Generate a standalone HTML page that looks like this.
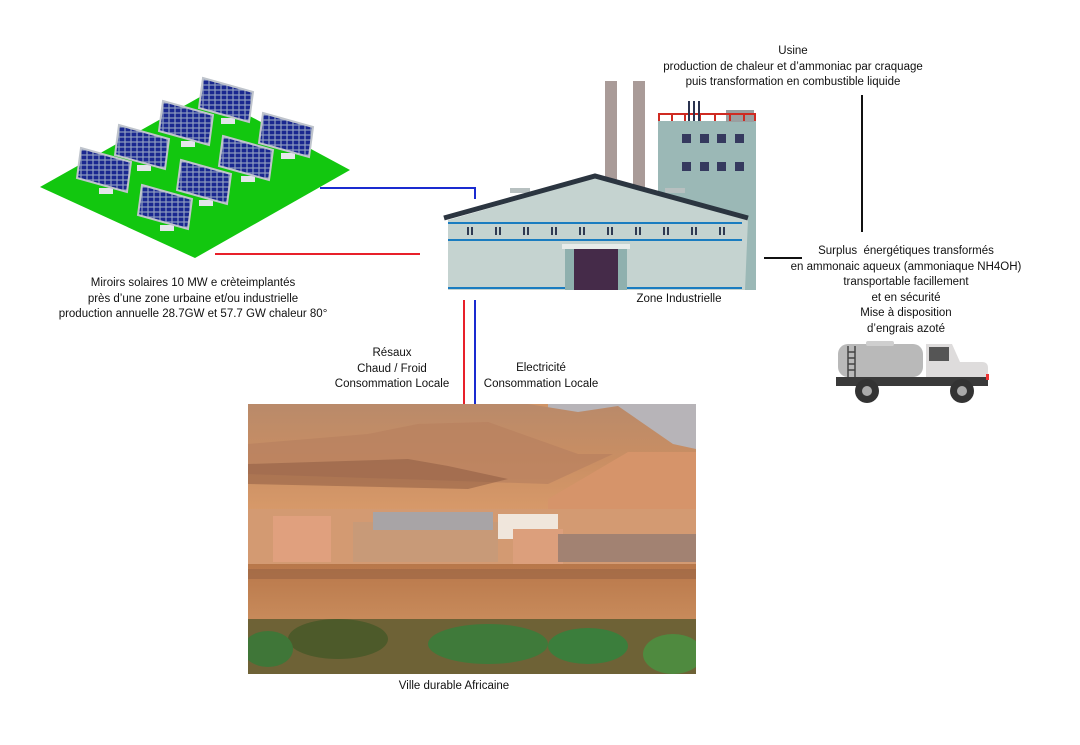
<!DOCTYPE html>
<html><head><meta charset="utf-8"><style>
html,body{margin:0;padding:0;background:#fff;}
body{width:1080px;height:745px;position:relative;overflow:hidden;font-family:"Liberation Sans",sans-serif;}
.t{position:absolute;font-size:11.5px;line-height:15.5px;text-align:center;color:#111;white-space:nowrap;transform:translateX(-50%);}
svg{position:absolute;left:0;top:0;}
</style></head><body>
<svg width="1080" height="745" viewBox="0 0 1080 745">
<defs>
<pattern id="cell" width="6" height="5" patternUnits="userSpaceOnUse"><rect width="6" height="5" fill="#8f9cc0"/><rect x="0.6" y="0.6" width="4.8" height="3.8" fill="#1a2890"/></pattern>
<linearGradient id="mtn" x1="0" y1="0" x2="0" y2="1"><stop offset="0" stop-color="#b98a6a"/><stop offset="0.5" stop-color="#c98e63"/><stop offset="1" stop-color="#d89a6a"/></linearGradient>
<linearGradient id="gnd" x1="0" y1="0" x2="0" y2="1"><stop offset="0" stop-color="#b8774a"/><stop offset="1" stop-color="#c98c5c"/></linearGradient>
<clipPath id="pc"><rect width="448" height="270"/></clipPath>
</defs>
<polygon points="40,187 207,93 350,170 195,258" fill="#12c70f"/>
<g stroke="#bfc4cc" stroke-width="2">
<g transform="translate(227,100)"><rect x="-6" y="18" width="14" height="6" fill="#e4e6ea" stroke="none"/><polygon points="-24,-22 26,-8 22,22 -28,8" fill="url(#cell)"/></g>
<g transform="translate(187,123)"><rect x="-6" y="18" width="14" height="6" fill="#e4e6ea" stroke="none"/><polygon points="-24,-22 26,-8 22,22 -28,8" fill="url(#cell)"/></g>
<g transform="translate(143,147)"><rect x="-6" y="18" width="14" height="6" fill="#e4e6ea" stroke="none"/><polygon points="-24,-22 26,-8 22,22 -28,8" fill="url(#cell)"/></g>
<g transform="translate(105,170)"><rect x="-6" y="18" width="14" height="6" fill="#e4e6ea" stroke="none"/><polygon points="-24,-22 26,-8 22,22 -28,8" fill="url(#cell)"/></g>
<g transform="translate(287,135)"><rect x="-6" y="18" width="14" height="6" fill="#e4e6ea" stroke="none"/><polygon points="-24,-22 26,-8 22,22 -28,8" fill="url(#cell)"/></g>
<g transform="translate(247,158)"><rect x="-6" y="18" width="14" height="6" fill="#e4e6ea" stroke="none"/><polygon points="-24,-22 26,-8 22,22 -28,8" fill="url(#cell)"/></g>
<g transform="translate(205,182)"><rect x="-6" y="18" width="14" height="6" fill="#e4e6ea" stroke="none"/><polygon points="-24,-22 26,-8 22,22 -28,8" fill="url(#cell)"/></g>
<g transform="translate(166,207)"><rect x="-6" y="18" width="14" height="6" fill="#e4e6ea" stroke="none"/><polygon points="-24,-22 26,-8 22,22 -28,8" fill="url(#cell)"/></g>
</g>
<polyline points="320,188 475,188 475,199" fill="none" stroke="#1a2bd0" stroke-width="2"/>
<line x1="215" y1="254" x2="420" y2="254" stroke="#e8202a" stroke-width="2"/>
<line x1="464" y1="300" x2="464" y2="420" stroke="#e8202a" stroke-width="2"/>
<line x1="475" y1="300" x2="475" y2="422" stroke="#1a2bd0" stroke-width="2"/>
<line x1="862" y1="95" x2="862" y2="232" stroke="#111" stroke-width="2"/>
<line x1="764" y1="258" x2="802" y2="258" stroke="#111" stroke-width="2"/>
<rect x="605" y="81" width="12" height="110" fill="#a99b98"/>
<rect x="633" y="81" width="12" height="110" fill="#a99b98"/>
<rect x="658" y="121" width="98" height="169" fill="#9bb8b6"/>
<rect x="726" y="110" width="28" height="12" fill="#9a9fa0"/>
<g stroke="#cf2b22" stroke-width="2" fill="none"><line x1="658" y1="114" x2="756" y2="114"/><path d="M659,114v7M672,114v7M685,114v7M700,114v7M715,114v7M730,114v7M744,114v7M755,114v7"/></g>
<g fill="#2b3350"><rect x="688" y="101" width="2" height="20"/><rect x="693" y="101" width="2" height="20"/><rect x="698" y="101" width="2" height="20"/></g>
<g fill="#35395e"><rect x="682" y="134" width="9" height="9"/><rect x="700" y="134" width="9" height="9"/><rect x="717" y="134" width="9" height="9"/><rect x="735" y="134" width="9" height="9"/><rect x="682" y="162" width="9" height="9"/><rect x="700" y="162" width="9" height="9"/><rect x="717" y="162" width="9" height="9"/><rect x="735" y="162" width="9" height="9"/></g>
<rect x="510" y="188" width="20" height="5" fill="#b7c0c0"/><rect x="665" y="188" width="20" height="5" fill="#b7c0c0"/>
<polygon points="448,220 595,178 748,219 745,290 448,290" fill="#c5d3d0"/>
<polyline points="444,218 595,176 748,218" fill="none" stroke="#2b3540" stroke-width="5"/>
<line x1="448" y1="223" x2="742" y2="223" stroke="#1a7cc0" stroke-width="2"/>
<line x1="448" y1="240" x2="742" y2="240" stroke="#1a7cc0" stroke-width="2"/>
<line x1="448" y1="288" x2="565" y2="288" stroke="#1a7cc0" stroke-width="2"/>
<line x1="625" y1="288" x2="742" y2="288" stroke="#1a7cc0" stroke-width="2"/>
<g fill="#2f3a52">
<rect x="467" y="227" width="2" height="8"/><rect x="471" y="227" width="2" height="8"/>
<rect x="495" y="227" width="2" height="8"/><rect x="499" y="227" width="2" height="8"/>
<rect x="523" y="227" width="2" height="8"/><rect x="527" y="227" width="2" height="8"/>
<rect x="551" y="227" width="2" height="8"/><rect x="555" y="227" width="2" height="8"/>
<rect x="579" y="227" width="2" height="8"/><rect x="583" y="227" width="2" height="8"/>
<rect x="607" y="227" width="2" height="8"/><rect x="611" y="227" width="2" height="8"/>
<rect x="635" y="227" width="2" height="8"/><rect x="639" y="227" width="2" height="8"/>
<rect x="663" y="227" width="2" height="8"/><rect x="667" y="227" width="2" height="8"/>
<rect x="691" y="227" width="2" height="8"/><rect x="695" y="227" width="2" height="8"/>
<rect x="719" y="227" width="2" height="8"/><rect x="723" y="227" width="2" height="8"/>
</g>
<rect x="562" y="244" width="68" height="5" fill="#e8ecea"/>
<rect x="565" y="249" width="62" height="41" fill="#8fb0ae"/>
<rect x="574" y="249" width="44" height="41" fill="#452b49"/>
<rect x="838" y="344" width="85" height="33" rx="10" fill="#b9b9b9"/>
<rect x="866" y="341" width="28" height="5" rx="2" fill="#cfcfcf"/>
<g stroke="#444" stroke-width="1.5"><line x1="848" y1="346" x2="848" y2="378"/><line x1="855" y1="346" x2="855" y2="378"/><path d="M848,352h7M848,358h7M848,364h7M848,370h7"/></g>
<path d="M926,344 h26 l8,18 h22 q6,0 6,6 v15 h-62z" fill="#dedcdc"/>
<rect x="929" y="347" width="20" height="14" fill="#555"/>
<rect x="836" y="377" width="152" height="9" fill="#3a3a3a"/>
<rect x="986" y="374" width="3" height="6" fill="#e33"/>
<circle cx="867" cy="391" r="12" fill="#333"/><circle cx="867" cy="391" r="5" fill="#aaa"/>
<circle cx="962" cy="391" r="12" fill="#333"/><circle cx="962" cy="391" r="5" fill="#aaa"/>
<g transform="translate(248,404)" clip-path="url(#pc)">
<rect width="448" height="270" fill="#cf9467"/>
<rect x="300" width="148" height="50" fill="#b7b4b8"/>
<polygon points="0,0 280,0 330,8 370,2 425,40 448,45 448,110 0,110" fill="url(#mtn)"/>
<polygon points="0,40 120,30 170,20 240,18 330,50 365,50 300,80 0,70" fill="#b88060" opacity="0.7"/>
<polygon points="0,60 160,55 200,62 260,75 220,85 0,80" fill="#8a5840" opacity="0.5"/>
<polygon points="300,95 380,48 448,48 448,130 300,130" fill="#d6946a"/>
<rect x="0" y="105" width="448" height="60" fill="#d39a72"/>
<rect x="25" y="112" width="58" height="46" fill="#e0a07e"/>
<rect x="105" y="118" width="145" height="40" fill="#c89a78"/>
<rect x="125" y="108" width="120" height="18" fill="#a8a4a6"/>
<rect x="250" y="110" width="60" height="25" fill="#f0e6dc"/>
<rect x="265" y="125" width="50" height="35" fill="#dc9f7c"/>
<rect x="310" y="130" width="138" height="28" fill="#a28272"/>
<rect x="0" y="160" width="448" height="60" fill="url(#gnd)"/>
<rect x="0" y="165" width="448" height="10" fill="#9a6444" opacity="0.6"/>
<rect x="0" y="215" width="448" height="55" fill="#6e6236"/>
<ellipse cx="90" cy="235" rx="50" ry="20" fill="#4d5a2a"/>
<ellipse cx="240" cy="240" rx="60" ry="20" fill="#3f7a3a"/>
<ellipse cx="340" cy="242" rx="40" ry="18" fill="#3b7e3c"/>
<ellipse cx="425" cy="250" rx="30" ry="20" fill="#4f8a3f"/>
<ellipse cx="20" cy="245" rx="25" ry="18" fill="#3f7638"/>
</g>
</svg>
<div class="t" style="left:793px;top:44px;">Usine<br>production de chaleur et d’ammoniac par craquage<br>puis transformation en combustible liquide</div>
<div class="t" style="left:193px;top:276px;">Miroirs solaires 10 MW e crèteimplantés<br>près d’une zone urbaine et/ou industrielle<br>production annuelle 28.7GW et 57.7 GW chaleur 80°</div>
<div class="t" style="left:679px;top:292px;">Zone Industrielle</div>
<div class="t" style="left:906px;top:244px;">Surplus&nbsp; énergétiques transformés<br>en ammonaic aqueux (ammoniaque NH4OH)<br>transportable facillement<br>et en sécurité<br>Mise à disposition<br>d’engrais azoté</div>
<div class="t" style="left:392px;top:346px;">Résaux<br>Chaud / Froid<br>Consommation Locale</div>
<div class="t" style="left:541px;top:361px;">Electricité<br>Consommation Locale</div>
<div class="t" style="left:454px;top:679px;">Ville durable Africaine</div>
</body></html>
